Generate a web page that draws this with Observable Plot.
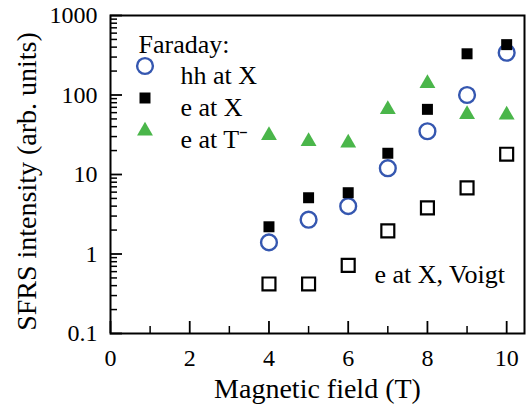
<!DOCTYPE html>
<html>
<head>
<meta charset="utf-8">
<script src="https://cdn.jsdelivr.net/npm/d3@7"></script>
<script src="https://cdn.jsdelivr.net/npm/@observablehq/plot@0.6"></script>
<style>
  html, body { margin: 0; padding: 0; background: #fff; }
</style>
</head>
<body>
<div id="chart"></div>
<script>
// Magnetic field (T)
const field = [4, 5, 6, 7, 8, 9, 10];
// SFRS intensity (arb. units), Faraday geometry
const hhAtX = [1.4, 2.7, 4.0, 12, 35, 100, 340];
const eAtX = [2.2, 5.1, 5.9, 18.5, 66, 330, 430];
const eAtTminus = [31, 26, 25, 66, 140, 57, 56];
// SFRS intensity, Voigt geometry
const eAtXVoigt = [0.42, 0.42, 0.72, 1.95, 3.8, 6.8, 18];

// Axis ticks
const xMajor = [0, 2, 4, 6, 8, 10];
const xMinor = [1, 3, 5, 7, 9];
const yMajor = [0.1, 1, 10, 100, 1000];
const yMinor = [];
for (const decade of [0.1, 1, 10, 100]) for (let m = 2; m <= 9; m++) yMinor.push(+(m * decade).toPrecision(3));

const blue = "#3557b0";
const green = "#4ab64a";

const W = 527, H = 407;
const mL = 110, mR = 3, mT = 15, mB = 74;
const plotW = W - mL - mR, plotH = H - mT - mB;

const rows = (ys) => field.map((x, i) => ({x, y: ys[i]}));

const chart = Plot.plot({
  width: W,
  height: H,
  marginLeft: mL,
  marginRight: mR,
  marginTop: mT,
  marginBottom: mB,
  style: {fontFamily: "'Liberation Serif', 'Times New Roman', serif", fontSize: "24px", background: "#fff", color: "#000"},
  x: {domain: [0, 10.45]},
  y: {type: "log", domain: [0.1, 1000]},
  marks: [
    // inward tick marks
    Plot.tickY(yMajor, {y: d => d, stroke: "#000", strokeWidth: 1.8, insetRight: plotW - 12}),
    Plot.tickY(yMinor, {y: d => d, stroke: "#000", strokeWidth: 1.5, insetRight: plotW - 7}),
    Plot.tickX(xMajor, {x: d => d, stroke: "#000", strokeWidth: 1.8, insetTop: plotH - 12}),
    Plot.tickX(xMinor, {x: d => d, stroke: "#000", strokeWidth: 1.5, insetTop: plotH - 7}),
    // tick labels
    Plot.axisY({ticks: yMajor, tickSize: 0, tickPadding: 13, tickFormat: d => String(d), fontSize: 24, label: null}),
    Plot.axisX({ticks: xMajor, tickSize: 0, tickPadding: 15, tickFormat: d => String(d), fontSize: 24, label: null}),
    Plot.frame({stroke: "#000", strokeWidth: 2}),
    // axis titles
    Plot.text(["Magnetic field (T)"], {frameAnchor: "bottom", dy: 64, fontSize: 28, textAnchor: "middle"}),
    Plot.text(["SFRS intensity (arb. units)"], {frameAnchor: "left", dx: -83, dy: 7, rotate: -90, fontSize: 28, textAnchor: "middle"}),
    // data
    Plot.dot(rows(eAtXVoigt), {x: "x", y: "y", symbol: "square", r: 7.3, stroke: "#000", strokeWidth: 2.2, fill: "#fff"}),
    Plot.dot(rows(eAtTminus), {x: "x", y: "y", symbol: "triangle", r: 5.9, fill: green, stroke: "none"}),
    Plot.dot(rows(hhAtX), {x: "x", y: "y", symbol: "circle", r: 7.9, stroke: blue, strokeWidth: 2.4, fill: "none"}),
    Plot.dot(rows(eAtX), {x: "x", y: "y", symbol: "square", r: 6.2, fill: "#000", stroke: "none"}),
    // legend
    Plot.text(["Faraday:"], {frameAnchor: "top-left", dx: 28, dy: 19.5, textAnchor: "start", fontSize: 26}),
    Plot.dot([0], {frameAnchor: "top-left", dx: 34.5, dy: 50.5, symbol: "circle", r: 7.9, stroke: blue, strokeWidth: 2.4, fill: "none"}),
    Plot.text(["hh at X"], {frameAnchor: "top-left", dx: 70, dy: 50.5, textAnchor: "start", fontSize: 26}),
    Plot.dot([0], {frameAnchor: "top-left", dx: 34.5, dy: 82.5, symbol: "square", r: 6.2, fill: "#000", stroke: "none"}),
    Plot.text(["e at X"], {frameAnchor: "top-left", dx: 70, dy: 82.5, textAnchor: "start", fontSize: 26}),
    Plot.dot([0], {frameAnchor: "top-left", dx: 34.5, dy: 115.5, symbol: "triangle", r: 5.9, fill: green, stroke: "none"}),
    Plot.text(["e at T⁻"], {frameAnchor: "top-left", dx: 70, dy: 114.5, textAnchor: "start", fontSize: 26}),
    Plot.text(["e at X, Voigt"], {frameAnchor: "top-left", dx: 264, dy: 249.5, textAnchor: "start", fontSize: 26})
  ]
});

document.getElementById("chart").appendChild(chart);
</script>
</body>
</html>
